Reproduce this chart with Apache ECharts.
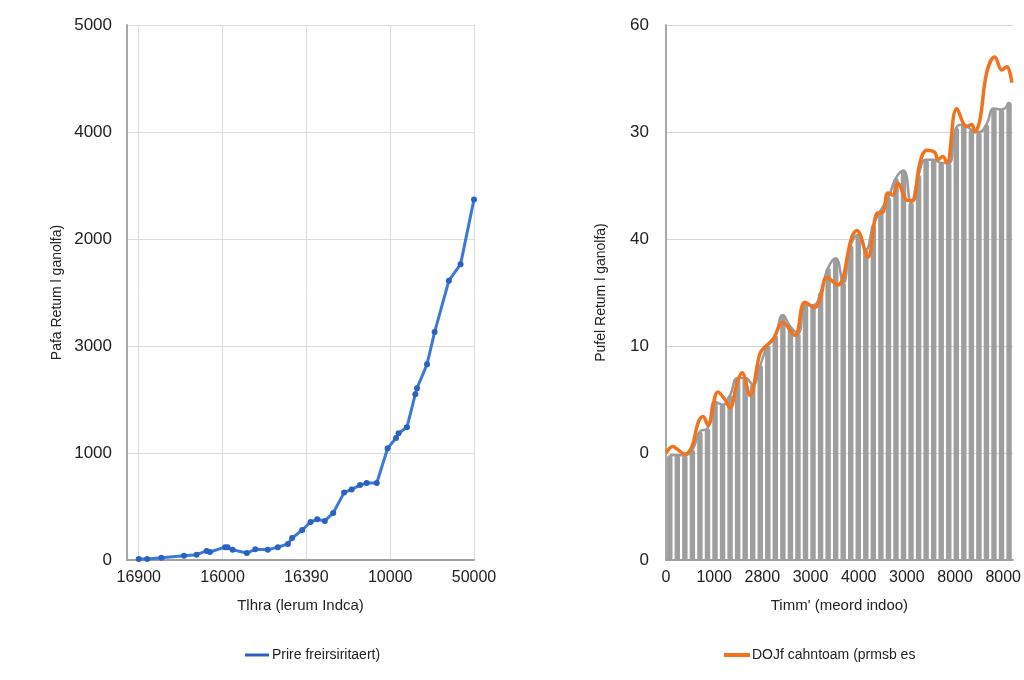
<!DOCTYPE html>
<html>
<head>
<meta charset="utf-8">
<script src="https://cdn.jsdelivr.net/npm/echarts@6/dist/echarts.min.js"></script>
<style>
html,body{margin:0;padding:0;background:#fff;}
#chart{width:1024px;height:680px;}
</style>
</head>
<body>
<div id="chart"></div>
<script>
// ---- Left panel data ----
const leftXLabels = ["16900", "16000", "16390", "10000", "50000"];
const leftYLabels = ["0", "1000", "3000", "2000", "4000", "5000"];
const leftX = [0, 10, 27, 54, 69, 81, 85, 103, 106, 112, 129, 139, 154, 166, 178, 183, 195, 205, 213, 222, 232, 245, 254, 264, 272, 284, 297, 307, 310, 320, 330, 332, 344, 353, 370, 384, 400];
const leftY = [10, 10, 20, 40, 50, 85, 75, 120, 118, 95, 65, 100, 95, 120, 150, 205, 280, 355, 380, 365, 440, 630, 660, 700, 720, 720, 1045, 1140, 1185, 1240, 1550, 1605, 1830, 2130, 2610, 2765, 3370];

// ---- Right panel data ----
const rightXLabels = ["0", "1000", "2800", "3000", "4000", "3000", "8000", "8000"];
const rightYLabels = ["0", "0", "10", "40", "30", "60"];
const greyBars = [9.8, 9.8, 9.8, 10.3, 12.0, 12.3, 14.8, 14.5, 15.4, 17.0, 17.0, 16.4, 18.2, 20.1, 21.0, 22.9, 21.8, 21.2, 23.8, 23.8, 25.0, 27.3, 28.2, 25.9, 29.4, 30.4, 29.0, 31.3, 32.7, 33.9, 35.7, 36.4, 33.4, 36.0, 37.4, 37.4, 37.1, 37.1, 40.4, 40.7, 40.2, 40.0, 40.7, 42.2, 42.1, 42.8];
const orangeX = [0, 145, 249, 394, 539, 664, 768, 871, 1079, 1224, 1328, 1473, 1577, 1743, 1950, 2054, 2220, 2427, 2676, 2884, 3091, 3195, 3340, 3568, 3859, 3963, 4191, 4378, 4502, 4606, 4710, 4813, 5021, 5124, 5270, 5415, 5581, 5643, 5747, 5830, 6037, 6245, 6349, 6411, 6515, 6660, 6826, 6971, 7075, 7178];
const orangeY = [10.0, 10.6, 10.3, 9.9, 10.6, 12.8, 13.4, 12.6, 15.7, 15.0, 14.2, 16.5, 17.5, 15.4, 19.3, 19.9, 20.6, 22.2, 21.0, 24.1, 23.6, 24.3, 26.4, 25.7, 30.2, 30.8, 28.3, 32.4, 32.5, 34.3, 34.1, 35.2, 33.6, 33.6, 37.1, 38.3, 38.1, 37.4, 37.7, 37.1, 42.2, 40.5, 40.7, 40.0, 41.1, 45.6, 47.0, 45.8, 46.1, 44.6];

const leftName = "Prire freirsiritaert)";
const rightName = "DOJf cahntoam (prmsb es";

const FONT = "Liberation Sans, Arial, sans-serif";
const txt = '#222';

function labelFrom(arr, step) {
  return function (v) {
    const i = Math.round(v / step);
    if (v < 0 || Math.abs(v - i * step) > 1e-6 || i >= arr.length) return '';
    return arr[i];
  };
}

const chart = echarts.init(document.getElementById('chart'));
chart.setOption({
  animation: false,
  backgroundColor: '#fff',
  textStyle: { fontFamily: FONT },
  grid: [
    { left: 127, right: 550, top: 25, bottom: 120 },
    { left: 666, right: 11, top: 25, bottom: 120 }
  ],
  legend: [
    {
      data: [leftName], left: 240, top: 643, icon: 'rect', itemWidth: 24, itemHeight: 3, itemGap: 4,
      textStyle: { fontSize: 14, color: txt, fontFamily: FONT, padding: [0, 0, 0, -2] }
    },
    {
      data: [rightName], left: 719, top: 643, icon: 'rect', itemWidth: 26, itemHeight: 4,
      textStyle: { fontSize: 14, color: txt, fontFamily: FONT, padding: [0, 0, 0, -3] }
    }
  ],
  xAxis: [
    {
      gridIndex: 0, type: 'value', min: -14, max: 400, splitNumber: 4,
      name: 'Tlhra (lerum Indca)', nameLocation: 'middle', nameGap: 38,
      nameTextStyle: { fontSize: 15, color: txt, fontFamily: FONT },
      axisLine: { show: true, onZero: false, lineStyle: { color: '#a0a0a0', width: 2 } },
      axisTick: { show: false },
      axisLabel: { fontSize: 16, color: txt, margin: 10, formatter: labelFrom(leftXLabels, 100), showMinLabel: false },
      splitLine: { show: true, lineStyle: { color: '#dcdcdc', width: 1 } }
    },
    {
      gridIndex: 1, type: 'value', min: 0, max: 7200, splitNumber: 7,
      name: "Timm' (meord indoo)", nameLocation: 'middle', nameGap: 38,
      nameTextStyle: { fontSize: 15, color: txt, fontFamily: FONT },
      axisLine: { show: true, onZero: false, lineStyle: { color: '#a0a0a0', width: 2 } },
      axisTick: { show: false },
      axisLabel: { fontSize: 16, color: txt, margin: 10, formatter: labelFrom(rightXLabels, 1000), showMaxLabel: false },
      splitLine: { show: false }
    },
    {
      gridIndex: 1, type: 'category', show: false, boundaryGap: true,
      data: greyBars.map((_, i) => i)
    }
  ],
  yAxis: [
    {
      gridIndex: 0, type: 'value', min: 0, max: 5000, interval: 1000,
      name: 'Pafa Retum l ganolfa)', nameLocation: 'middle', nameGap: 63,
      nameTextStyle: { fontSize: 14, color: txt, fontFamily: FONT },
      axisLine: { show: true, onZero: false, lineStyle: { color: '#a8a8a8', width: 2 } },
      axisTick: { show: false },
      axisLabel: { fontSize: 17, color: txt, margin: 15, formatter: labelFrom(leftYLabels, 1000) },
      splitLine: { show: true, lineStyle: { color: '#dcdcdc', width: 1 } }
    },
    {
      gridIndex: 1, type: 'value', min: 0, max: 50, interval: 10,
      name: 'Pufel Retum l ganolfa)', nameLocation: 'middle', nameGap: 58,
      nameTextStyle: { fontSize: 14, color: txt, fontFamily: FONT },
      axisLine: { show: true, onZero: false, lineStyle: { color: '#a8a8a8', width: 2 } },
      axisTick: { show: false },
      axisLabel: { fontSize: 17, color: txt, margin: 17, formatter: labelFrom(rightYLabels, 10) },
      splitLine: { show: true, lineStyle: { color: '#d4d4d4', width: 1 } }
    }
  ],
  series: [
    {
      name: leftName, type: 'line', xAxisIndex: 0, yAxisIndex: 0,
      data: leftX.map((x, i) => [x, leftY[i]]),
      symbol: 'circle', symbolSize: 6, showAllSymbol: true,
      itemStyle: { color: '#2a62c4' },
      lineStyle: { color: '#3a7ad6', width: 3 },
      z: 3
    },
    {
      name: 'bars', type: 'bar', xAxisIndex: 2, yAxisIndex: 1,
      data: greyBars, barWidth: '72%',
      itemStyle: { color: '#9e9e9e', borderRadius: [3, 3, 0, 0] },
      z: 2
    },
    {
      name: 'greyline', type: 'line', xAxisIndex: 2, yAxisIndex: 1,
      data: greyBars, smooth: 0.5, symbol: 'none',
      lineStyle: { color: '#9a9a9a', width: 2.5 },
      z: 3
    },
    {
      name: rightName, type: 'line', xAxisIndex: 1, yAxisIndex: 1,
      data: orangeX.map((x, i) => [x, orangeY[i]]),
      smooth: 0.4, symbol: 'none',
      itemStyle: { color: '#f2731e' },
      lineStyle: { color: '#f2731e', width: 3.5 },
      z: 4
    }
  ]
});
</script>
</body>
</html>
